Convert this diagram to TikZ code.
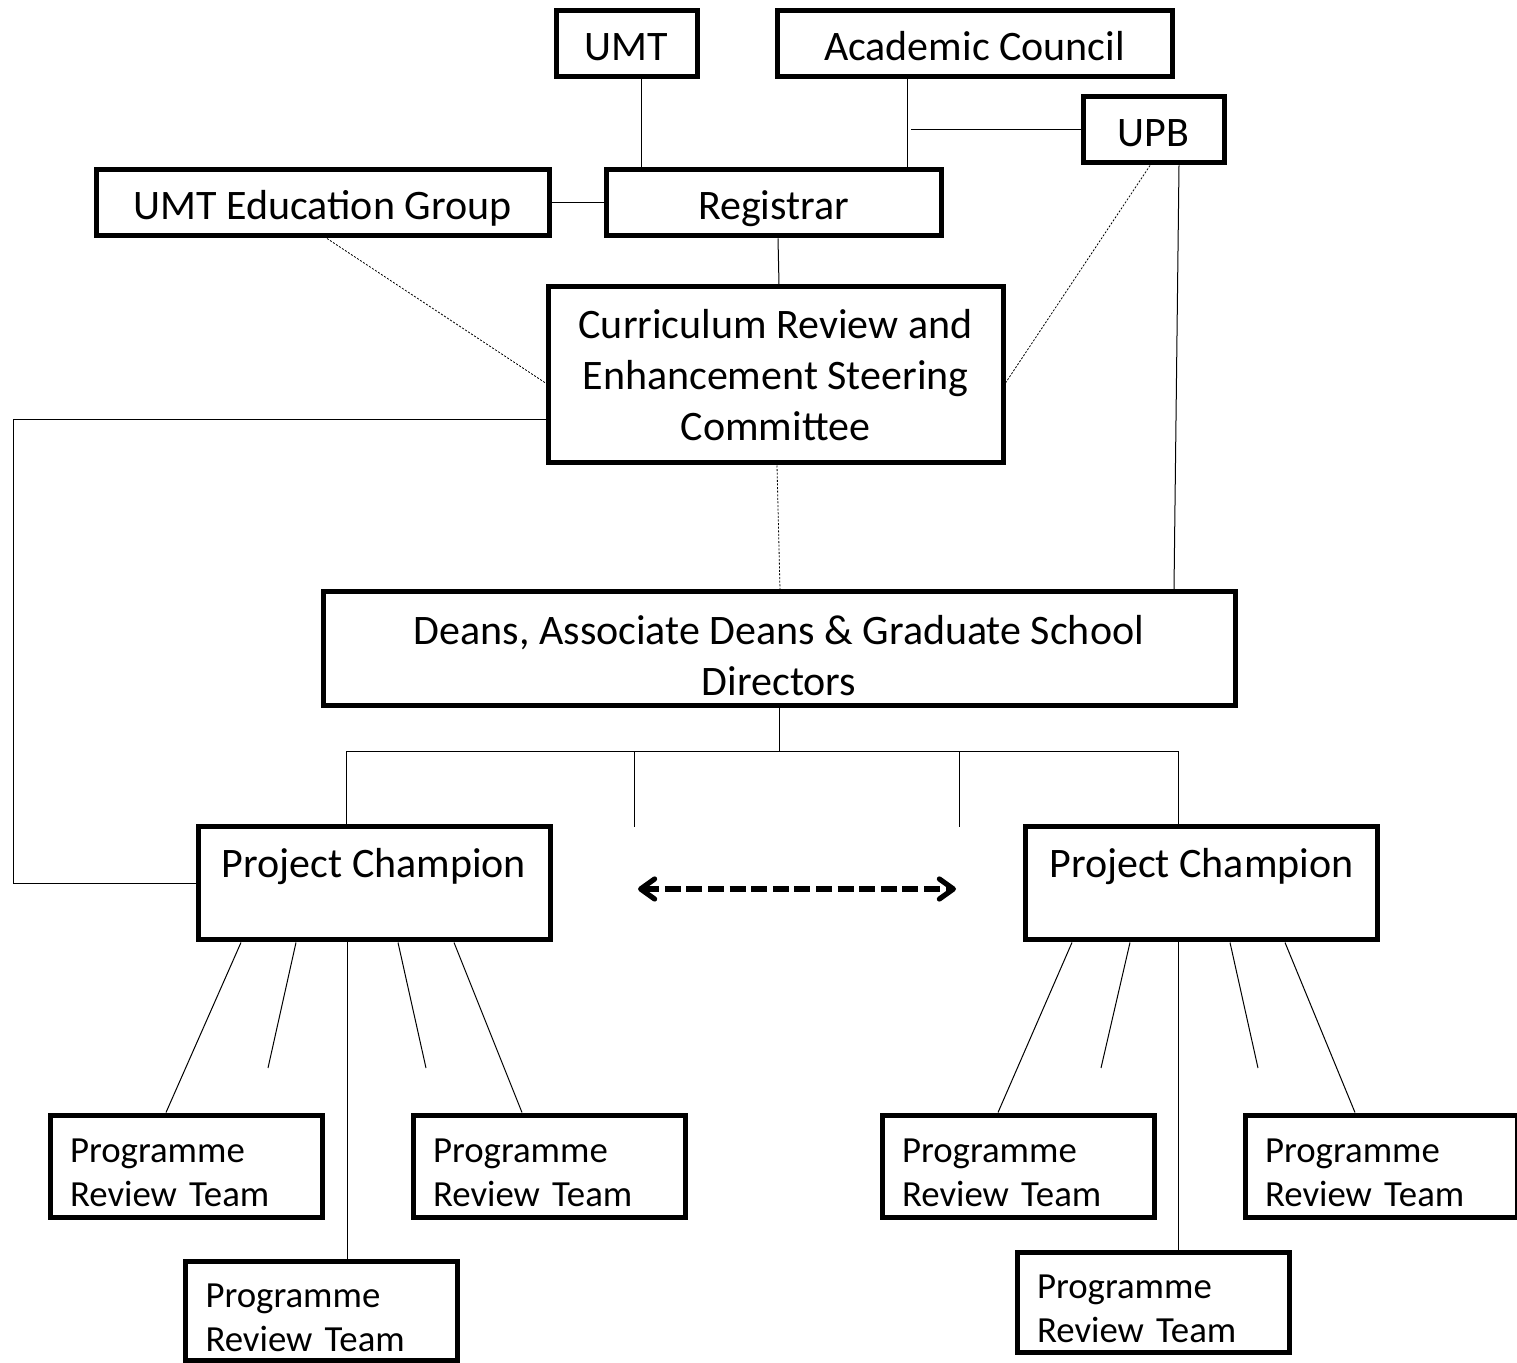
\documentclass[tikz,border=0pt]{standalone}
\usepackage{fontspec}
\setmainfont{Carlito}
\usetikzlibrary{arrows.meta}

\begin{document}
\begin{tikzpicture}[
            x = 0.5pt, y = -0.5pt, % one unit = one pixel of the sketch
            link/.style = {line width = 0.5pt}, % plain connector
            loose/.style = {line width = 0.4pt, dash pattern = on 1pt off 0.8pt}, % dotted connector
            peer/.style = {line width = 2.6pt, dash pattern = on 8pt off 2.8pt,
                {Straight Barb[length=7pt,width=10pt,line width=2.6pt,round]}-{Straight Barb[length=7pt,width=10pt,line width=2.6pt,round]}}
        ]

        \tikzstyle{office}=[
            draw = black,
            line width = 2.5pt,
            fill = white,
            inner sep = 0pt,
            align = center,
            minimum height = 33pt,
            font = \fontsize{21}{25.5}\selectfont
        ]
        \tikzstyle{single}=[
            office,
            text height = 21pt,
            text depth = 4.5pt
        ]
        \tikzstyle{team}=[
            office,
            align = left,
            minimum width = 136pt,
            minimum height = 51pt,
            text width = 116pt,
            text height = 18.8pt,
            font = \fontsize{18.4}{22}\selectfont
        ]

        \useasboundingbox (0,0) rectangle (1517,1363);

        % top of the tree
        \node[single, minimum width = 70.5pt] (umt) at (626.5,44) {UMT};
        \node[single, minimum width = 197.5pt] (ac) at (974.5,44) {Academic Council};
        \node[single, minimum width = 70.5pt] (upb) at (1153.5,130) {UPB};
        \node[single, minimum width = 226.5pt] (ueg) at (322.5,203) {UMT Education Group};
        \node[single, minimum width = 167.5pt] (reg) at (773.5,203) {Registrar};
        \node[office, minimum width = 227.5pt, minimum height = 88pt] (cresc) at (775.5,375)
            {Curriculum Review and\\Enhancement Steering\\Committee};
        \node[office, minimum width = 456pt, minimum height = 57pt] (deans) at (779,649)
            {\rule{0pt}{21pt}Deans, Associate Deans \& Graduate School\\Directors};

        % project champions
        \node[office, minimum width = 176pt, minimum height = 56.5pt] (pcl) at (374,883.5)
            {\rule{0pt}{19.7pt}Project Champion\\\mbox{}};
        \node[office, minimum width = 176pt, minimum height = 56.5pt] (pcr) at (1201.5,883.5)
            {\rule{0pt}{19.7pt}Project Champion\\\mbox{}};

        % programme review teams
        \node[team] (prtla) at (186,1166) {Programme\\Review Team};
        \node[team] (prtlb) at (549,1166) {Programme\\Review Team};
        \node[team, minimum height = 49.5pt] (prtlc) at (321.5,1310.5) {Programme\\Review Team};
        \node[team] (prtra) at (1018,1166) {Programme\\Review Team};
        \node[team] (prtrb) at (1381,1166) {Programme\\Review Team};
        \node[team, minimum height = 50pt] (prtrc) at (1153,1302) {Programme\\Review Team};

        \coordinate (acjoin) at (911,130);
        \coordinate (busl) at (346,752);
        \coordinate (busr) at (1178,752);
        \coordinate (dropl) at (634,827);
        \coordinate (dropr) at (959,827);
        \coordinate (arrl) at (638,889);
        \coordinate (arrr) at (956,889);
        \coordinate (stubla) at (268,1068);
        \coordinate (stublb) at (426,1068);
        \coordinate (stubra) at (1101,1068);
        \coordinate (stubrb) at (1258,1068);

        % upper links
        \draw[link] (umt.south -| 641,0) -- (reg.north -| 641,0);
        \draw[link] (ac.south -| 907,0) -- (reg.north -| 907,0);
        \draw[link] (acjoin) -- (upb.west);
        \draw[link] (ueg.east) -- (reg.west);
        \draw[link] (reg.south -| 778,0) -- (cresc.north -| 779,0);
        \draw[loose] (ueg.south -| 327,0) -- (cresc.west |- 0,383);
        \draw[loose] (upb.south -| 1150,0) -- (cresc.east |- 0,383);
        \draw[link] (upb.south -| 1179,0) -- (deans.north -| 1174,0);
        \draw[loose] (cresc.south -| 777,0) -- (deans.north -| 780,0);
        \draw[link] (cresc.west |- 0,420) -| (pcl.west -| 13,0) -- (pcl.west);

        % deans to champions
        \draw[link] (deans.south) -- (deans.south |- busl);
        \draw[link] (pcl.north -| busl) -- (busl) -- (busr) -- (pcr.north -| busr);
        \draw[link] (dropl |- busl) -- (dropl);
        \draw[link] (dropr |- busl) -- (dropr);
        \draw[peer] (arrl) -- (arrr);

        % champions to teams
        \draw[link] (pcl.south -| 241,0) -- (prtla.north -| 166,0);
        \draw[link] (pcl.south -| 296,0) -- (stubla);
        \draw[link] (pcl.south -| 347,0) -- (prtlc.north -| 347,0);
        \draw[link] (pcl.south -| 398,0) -- (stublb);
        \draw[link] (pcl.south -| 454,0) -- (prtlb.north -| 522,0);
        \draw[link] (pcr.south -| 1072,0) -- (prtra.north -| 998,0);
        \draw[link] (pcr.south -| 1130,0) -- (stubra);
        \draw[link] (pcr.south -| 1178,0) -- (prtrc.north -| 1178,0);
        \draw[link] (pcr.south -| 1230,0) -- (stubrb);
        \draw[link] (pcr.south -| 1285,0) -- (prtrb.north -| 1355,0);

  \end{tikzpicture}
\end{document}
